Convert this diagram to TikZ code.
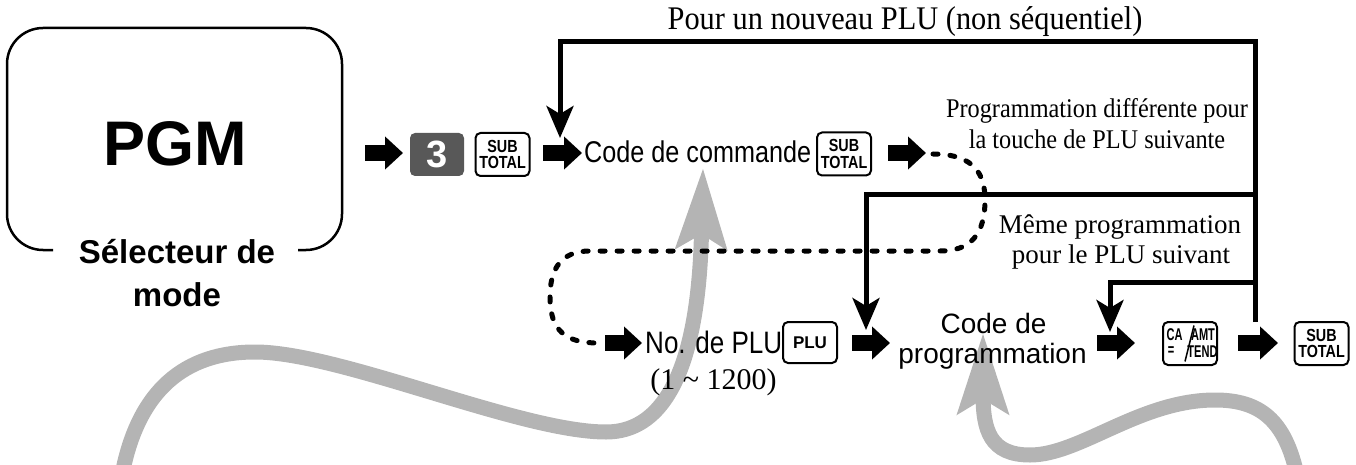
\documentclass[tikz,border=0pt]{standalone}
\usepackage{fontspec}
\setmainfont{Liberation Serif}
\setsansfont{Liberation Sans}
\newfontfamily\sfcond[FakeStretch=0.84]{Liberation Sans}
\newfontfamily\sfcondb[FakeStretch=0.82]{Liberation Sans}
\newfontfamily\sfnarrow[FakeStretch=0.65]{Liberation Sans}
\newfontfamily\rmcond[FakeStretch=0.9]{Liberation Serif}
\newfontfamily\rmcondb[FakeStretch=0.92]{Liberation Serif}
\usetikzlibrary{arrows.meta}
\newcommand\fsz[1]{\fontsize{#1}{#1}\selectfont}
\definecolor{curvegray}{HTML}{B4B4B4}
\definecolor{keydark}{HTML}{585858}
\begin{document}
\begin{tikzpicture}[x=1pt,y=-1pt,
  key/.style={draw, line width=2pt, rounded corners=5pt, minimum width=54pt, minimum height=43pt, inner sep=0pt, fill=white, align=center},
  subkey/.style={key, font=\sfcondb\bfseries\fontsize{17.5}{16.5}\selectfont},
  dkey/.style={rounded corners=5pt, fill=keydark, minimum width=54pt, minimum height=43pt, inner sep=0pt, text=white, font=\bfseries\sffamily\fsz{38}},
  blk/.style={line width=16pt, -{Triangle[length=18pt,width=32pt]}},
  flow/.style={line width=5pt},
  flowarr/.style={flow, -{Stealth[length=32pt,width=27pt,inset=8pt]}},
  grayarr/.style={line width=15pt, draw=curvegray, -{Stealth[length=80pt,width=50pt,inset=14pt]}},
  dashc/.style={line width=5pt, dash pattern=on 5pt off 12pt, line cap=round},
  serif/.style={anchor=base, inner sep=0pt},
  cakey/.style={font=\sfnarrow\bfseries\fsz{17}, inner sep=0pt}
]
\useasboundingbox (0,0) rectangle (1356,465);

% coordinates
\coordinate (gAtip) at (703,168);
\coordinate (gAstart) at (122,475);
\coordinate (gBtip) at (983,333);
\coordinate (gBstart) at (1297,475);

% gray curves
\draw[grayarr] (gAstart) .. controls (138,390) and (185,352) .. (255,352)
  .. controls (340,352) and (520,432) .. (606,432)
  .. controls (690,432) and (700,300) .. (gAtip);
\draw[grayarr] (gBstart) .. controls (1285,420) and (1260,400) .. (1215,400)
  .. controls (1140,400) and (1080,455) .. (1030,455)
  .. controls (990,455) and (983,430) .. (gBtip);

% mode selector box
\draw[line width=2.5pt, rounded corners=36pt] (53,250) -- (7,250) -- (7,28) -- (342,28) -- (342,250) -- (298,250);
\node[anchor=base, inner sep=0pt, font=\bfseries\sffamily\fsz{63}] (pgm) at (175,166) {PGM};
\node[anchor=base, inner sep=0pt, font=\bfseries\sffamily\fsz{33}] (sel1) at (177,263) {Sélecteur de};
\node[anchor=base, inner sep=0pt, font=\bfseries\sffamily\fsz{33}] (sel2) at (177,306) {mode};

% labels
\node[serif, font=\rmcondb\fsz{33}] (top) at (905,30) {Pour un nouveau PLU (non séquentiel)};
\node[serif, font=\rmcond\fsz{27}] (dif1) at (1097,118) {Programmation différente pour};
\node[serif, font=\rmcond\fsz{27}] (dif2) at (1097,149) {la touche de PLU suivante};
\node[serif, font=\fsz{27}] (meme1) at (1120,233) {Même programmation};
\node[serif, font=\fsz{27}] (meme2) at (1121,263) {pour le PLU suivant};

% row 1
\node[dkey] (k3) at (437,154.5) {3};
\node[subkey] (sub1) at (502.5,154.5) {SUB\\TOTAL};
\node[anchor=base west, inner sep=0pt, font=\sfcond\fsz{30}] (cmd) at (584,163) {Code de commande};
\node[subkey] (sub2) at (844,154) {SUB\\TOTAL};

% row 2
\node[anchor=base west, inner sep=0pt, font=\sfcond\fsz{31}] (plu) at (645,353) {No. de PLU};
\node[key, minimum height=41pt, font=\bfseries\sffamily\fsz{17}] (plukey) at (810,342.5) {PLU};
\node[serif, font=\fsz{30}] (range) at (713.5,389) {(1 \char"007E{} 1200)};
\node[anchor=base, inner sep=0pt, font=\sffamily\fsz{28}] (prog1) at (993.5,333) {Code de};
\node[anchor=base, inner sep=0pt, font=\sffamily\fsz{28}] (prog2) at (992.5,363) {programmation};
\node[key] (ca) at (1190,343.5) {};
\node[cakey] at ([shift={(-15.5,-9)}]ca.center) {CA};
\node[cakey] at ([shift={(13,-9)}]ca.center) {AMT};
\node[cakey] at ([shift={(-19,8)}]ca.center) {=};
\node[cakey] at ([shift={(12.5,8)}]ca.center) {TEND};
\draw[line width=1.5pt] ([shift={(-5,18)}]ca.center) -- ([shift={(4,-18)}]ca.center);
\node[subkey] (sub3) at (1321.5,343.5) {SUB\\TOTAL};

% flow lines
\coordinate (R0) at (1255,42);
\coordinate (R1) at (1255,194);
\coordinate (R2) at (1255,282);
\coordinate (R3) at (1255,322);
\coordinate (t1) at (560,138);
\coordinate (t2) at (866,330);
\coordinate (t3) at (1110,332);
\draw[flowarr] (R3) -- (R0) -- (t1 |- R0) -- (t1);
\draw[flowarr] (R1) -- (t2 |- R1) -- (t2);
\draw[flowarr] (R2) -- (t3 |- R2) -- (t3);

% dashed path
\coordinate (d0) at (933,154);
\coordinate (d1) at (598,343);
\draw[dashc] (d0) .. controls (975,154) and (985,175) .. (985,200)
  .. controls (985,235) and (970,251) .. (940,251) -- (590,251)
  .. controls (560,251) and (550,270) .. (550,297)
  .. controls (550,330) and (565,343) .. (d1);

% block arrows
\coordinate (a1s) at (365,153); \coordinate (a1e) at (403,153);
\coordinate (a2s) at (543,153); \coordinate (a2e) at (582,153);
\coordinate (a3s) at (888,153); \coordinate (a3e) at (926,153);
\coordinate (a4s) at (605,343); \coordinate (a4e) at (642,343);
\coordinate (a5s) at (852,343); \coordinate (a5e) at (890,343);
\coordinate (a6s) at (1097,343); \coordinate (a6e) at (1135,343);
\coordinate (a7s) at (1238,343); \coordinate (a7e) at (1278,343);
\foreach \i in {1,...,7} { \draw[blk] (a\i s) -- (a\i e); }
\end{tikzpicture}
\end{document}
